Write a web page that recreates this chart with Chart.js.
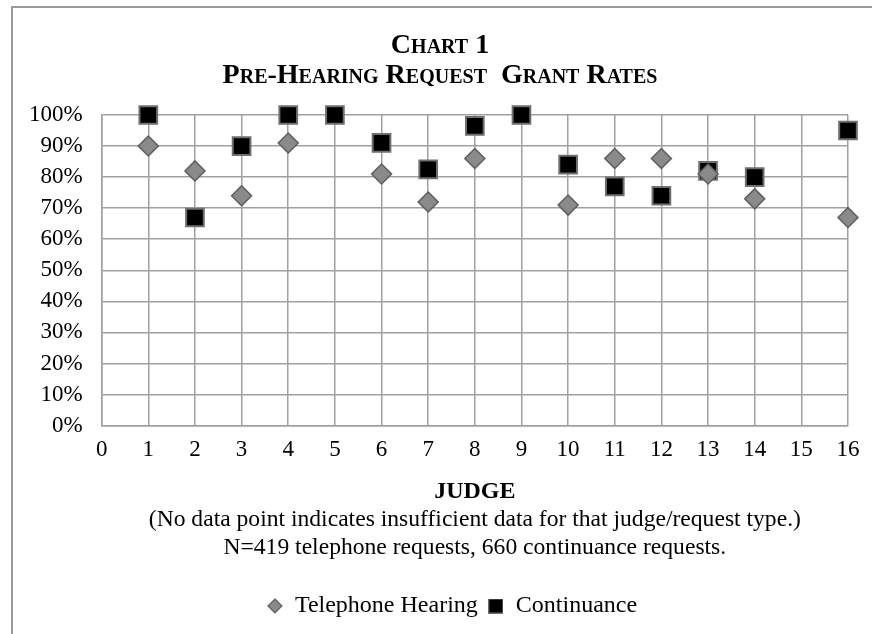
<!DOCTYPE html>
<html>
<head>
<meta charset="utf-8">
<script src="https://cdn.jsdelivr.net/npm/chart.js@4"></script>
<style>
  body { margin: 0; background: #fff; }
  #wrap { width: 872px; height: 634px; }
</style>
</head>
<body>
<div id="wrap"><canvas id="gradeChart" width="872" height="634"></canvas></div>
<script>
// judges 1..16, grant rates in percent (null = insufficient data)
const judges = [1, 2, 3, 4, 5, 6, 7, 8, 9, 10, 11, 12, 13, 14, 15, 16];
const telephoneRates = [90, 82, 74, 91, null, 81, 72, 86, null, 71, 86, 86, 81, 73, null, 67];
const continuanceRates = [100, 67, 90, 100, 100, 91, 82.5, 96.5, 100, 84, 77, 74, 82, 80, null, 95];
const xTicks = [0, 16];
const yTicks = [0, 100];

const serif = "'Liberation Serif', 'Times New Roman', serif";

function toPoints(values) {
    const pts = [];
    values.forEach((v, i) => {
        if (v !== null) pts.push({ x: judges[i], y: v });
    });
    return pts;
}

// small legend markers, drawn once so each can have its own size
function makeMarker(size, draw) {
    const c = document.createElement('canvas');
    c.width = size;
    c.height = size;
    draw(c.getContext('2d'), size);
    return c;
}
const diamondMarker = makeMarker(16, (g, s) => {
    g.beginPath();
    g.moveTo(s / 2, 1);
    g.lineTo(s - 1, s / 2);
    g.lineTo(s / 2, s - 1);
    g.lineTo(1, s / 2);
    g.closePath();
    g.fillStyle = '#8a8a8a';
    g.fill();
    g.strokeStyle = '#5e5e5e';
    g.lineWidth = 1.2;
    g.stroke();
});
const squareMarker = makeMarker(15, (g, s) => {
    g.fillStyle = '#000';
    g.fillRect(0.5, 0.5, s - 1, s - 1);
    g.strokeStyle = '#6f6f6f';
    g.lineWidth = 1;
    g.strokeRect(0.5, 0.5, s - 1, s - 1);
});
const legendMarkers = [diamondMarker, squareMarker];

// light frame round the chart (left and top edges only, as in the scan)
const framePlugin = {
    id: 'frame',
    beforeDraw(chart) {
        const ctx = chart.ctx;
        ctx.save();
        ctx.strokeStyle = '#9a9a9a';
        ctx.lineWidth = 2;
        ctx.beginPath();
        ctx.moveTo(12, 634);
        ctx.lineTo(12, 7);
        ctx.lineTo(872, 7);
        ctx.stroke();
        ctx.restore();
    }
};

// the original centres title and legend a bit right of the page middle
const nudgePlugin = {
    id: 'nudge',
    afterLayout(chart) {
        const shift = (box, dx) => {
            if (!box) return;
            box.left += dx;
            box.right += dx;
        };
        shift(chart.titleBlock, 11);
        shift(chart.legend, 23);
    }
};

const ctx = document.getElementById('gradeChart').getContext('2d');
const gradeChart = new Chart(ctx, {
    type: 'scatter',
    data: {
        datasets: [{
            label: 'Telephone Hearing',
            data: toPoints(telephoneRates),
            clip: false,
            pointStyle: 'rectRot',
            pointRadius: 10,
            pointHoverRadius: 10,
            backgroundColor: '#8a8a8a',
            borderColor: '#5e5e5e',
            borderWidth: 1.5
        }, {
            label: 'Continuance',
            data: toPoints(continuanceRates),
            clip: false,
            pointStyle: 'rect',
            pointRadius: 12.5,
            pointHoverRadius: 12.5,
            backgroundColor: '#000000',
            borderColor: '#6f6f6f',
            borderWidth: 2
        }]
    },
    options: {
        responsive: false,
        animation: false,
        layout: {
            padding: { left: 10, right: 24, top: 0, bottom: 6 }
        },
        scales: {
            x: {
                type: 'linear',
                min: xTicks[0],
                max: xTicks[1],
                ticks: {
                    stepSize: 1,
                    padding: 11,
                    color: '#000',
                    font: { family: serif, size: 23 }
                },
                grid: { color: '#a0a0a0', lineWidth: 1.5, drawTicks: false },
                border: { color: '#a0a0a0', width: 1.5 },
                title: {
                    display: true,
                    text: 'JUDGE',
                    color: '#000',
                    padding: { top: 2, bottom: 0 },
                    font: { family: serif, size: 24, weight: 'bold' }
                }
            },
            y: {
                min: yTicks[0],
                max: yTicks[1],
                ticks: {
                    stepSize: 10,
                    padding: 19,
                    color: '#000',
                    font: { family: serif, size: 23 },
                    callback: v => v + '%'
                },
                grid: { color: '#a0a0a0', lineWidth: 1.5, drawTicks: false },
                border: { color: '#a0a0a0', width: 1.5 }
            }
        },
        plugins: {
            title: {
                display: true,
                text: ['Chart 1', 'Pre-Hearing Request  Grant Rates'],
                color: '#000',
                padding: { top: 31, bottom: 24 },
                font: { family: serif, size: 28, weight: 'small-caps bold', lineHeight: 30 / 28 }
            },
            subtitle: {
                display: true,
                position: 'bottom',
                weight: 500,
                fullSize: false,
                text: ['(No data point indicates insufficient data for that judge/request type.)',
                       'N=419 telephone requests, 660 continuance requests.'],
                color: '#000',
                padding: { top: 0, bottom: 22 },
                font: { family: serif, size: 23.6, lineHeight: 28 / 23.6 }
            },
            legend: {
                position: 'bottom',
                labels: {
                    usePointStyle: true,
                    pointStyleWidth: 16,
                    boxHeight: 16,
                    padding: 10,
                    color: '#000',
                    font: { family: serif, size: 24 },
                    generateLabels(chart) {
                        const items = Chart.defaults.plugins.legend.labels.generateLabels(chart);
                        items.forEach((it, i) => { it.pointStyle = legendMarkers[i]; });
                        return items;
                    }
                }
            },
            tooltip: { enabled: false }
        }
    },
    plugins: [framePlugin, nudgePlugin]
});
</script>
</body>
</html>
